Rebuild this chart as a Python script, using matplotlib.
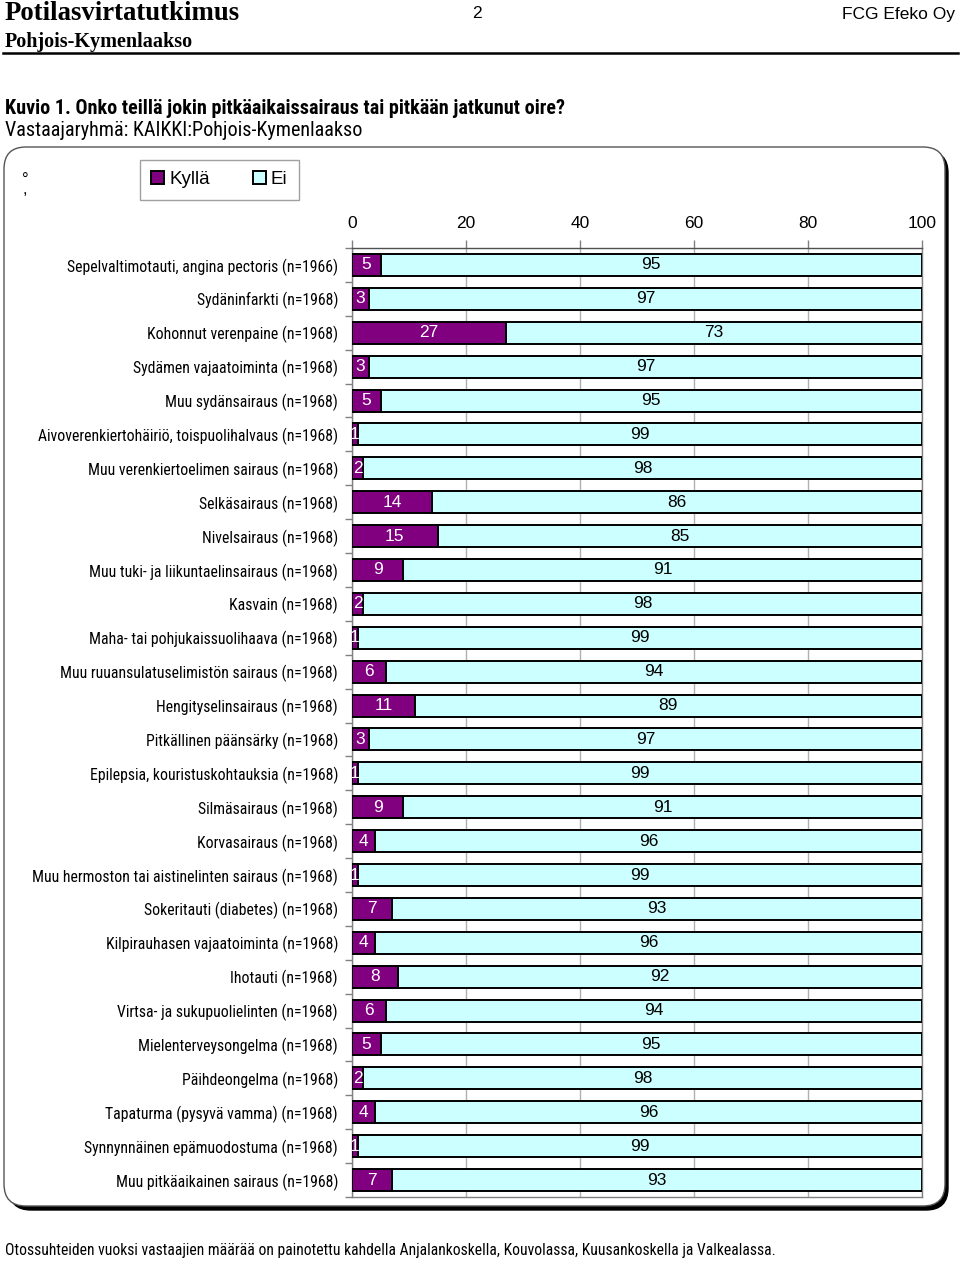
import matplotlib
matplotlib.use("Agg")
import matplotlib.pyplot as plt
from matplotlib.patches import FancyBboxPatch
from matplotlib.lines import Line2D
from matplotlib.transforms import IdentityTransform
from matplotlib.ticker import FixedLocator

categories = [
    "Sepelvaltimotauti, angina pectoris (n=1966)",
    "Sydäninfarkti (n=1968)",
    "Kohonnut verenpaine (n=1968)",
    "Sydämen vajaatoiminta (n=1968)",
    "Muu sydänsairaus (n=1968)",
    "Aivoverenkiertohäiriö, toispuolihalvaus (n=1968)",
    "Muu verenkiertoelimen sairaus (n=1968)",
    "Selkäsairaus (n=1968)",
    "Nivelsairaus (n=1968)",
    "Muu tuki- ja liikuntaelinsairaus (n=1968)",
    "Kasvain (n=1968)",
    "Maha- tai pohjukaissuolihaava (n=1968)",
    "Muu ruuansulatuselimistön sairaus (n=1968)",
    "Hengityselinsairaus (n=1968)",
    "Pitkällinen päänsärky (n=1968)",
    "Epilepsia, kouristuskohtauksia (n=1968)",
    "Silmäsairaus (n=1968)",
    "Korvasairaus (n=1968)",
    "Muu hermoston tai aistinelinten sairaus (n=1968)",
    "Sokeritauti (diabetes) (n=1968)",
    "Kilpirauhasen vajaatoiminta (n=1968)",
    "Ihotauti (n=1968)",
    "Virtsa- ja sukupuolielinten (n=1968)",
    "Mielenterveysongelma (n=1968)",
    "Päihdeongelma (n=1968)",
    "Tapaturma (pysyvä vamma) (n=1968)",
    "Synnynnäinen epämuodostuma (n=1968)",
    "Muu pitkäaikainen sairaus (n=1968)",
]
kylla = [5, 3, 27, 3, 5, 1, 2, 14, 15, 9, 2, 1, 6, 11, 3, 1, 9, 4, 1, 7, 4, 8, 6, 5, 2, 4, 1, 7]
ei = [95, 97, 73, 97, 95, 99, 98, 86, 85, 91, 98, 99, 94, 89, 97, 99, 91, 96, 99, 93, 96, 92, 94, 95, 98, 96, 99, 93]
series_names = ["Kyllä", "Ei"]
xticks = [0, 20, 40, 60, 80, 100]

NARROW = ["Roboto Condensed", "DejaVu Sans"]
SANS = ["Liberation Sans", "DejaVu Sans"]
SERIF = ["Liberation Serif", "DejaVu Serif"]

W, H = 960, 1262
fig = plt.figure(figsize=(W / 100, H / 100), dpi=100)
fig.patch.set_facecolor("white")

def fx(px):
    return px / W

def fy(py):
    return 1 - py / H

# Frame with shadow (pixel coords, origin bottom-left)
ident = IdentityTransform()
shadow = FancyBboxPatch((9, H - 1210), 939, 1059,
                        boxstyle="round,pad=0,rounding_size=22",
                        facecolor="black", edgecolor="black", transform=ident, zorder=-3)
frame = FancyBboxPatch((4, H - 1206), 941, 1059,
                       boxstyle="round,pad=0,rounding_size=22",
                       facecolor="white", edgecolor="#555555", linewidth=1.0,
                       transform=ident, zorder=-2)
fig.add_artist(shadow)
fig.add_artist(frame)

# Header
fig.text(fx(5), fy(13), "Potilasvirtatutkimus", family=SERIF, weight="bold",
         fontsize=19.3, ha="left", va="center")
fig.text(fx(477), fy(14), "2", family=SANS, fontsize=12.5, ha="center", va="center")
fig.text(fx(955), fy(14), "FCG Efeko Oy", family=SANS, fontsize=12.5, ha="right", va="center")
fig.text(fx(5), fy(42), "Pohjois-Kymenlaakso", family=SERIF, weight="bold",
         fontsize=14.5, ha="left", va="center")
fig.add_artist(Line2D([fx(3), fx(958)], [fy(53), fy(53)], color="black", lw=1.8))

fig.text(fx(5), fy(108), "Kuvio 1. Onko teillä jokin pitkäaikaissairaus tai pitkään jatkunut oire?",
         family=NARROW, weight="bold", fontsize=14.5, ha="left", va="center")
fig.text(fx(5), fy(130), "Vastaajaryhmä: KAIKKI:Pohjois-Kymenlaakso",
         family=NARROW, fontsize=14.5, ha="left", va="center")

fig.text(fx(25), fy(185), "°\n,", family=SANS, fontsize=12, ha="center", va="center",
         linespacing=0.55)

fig.text(fx(5), fy(1251),
         "Otossuhteiden vuoksi vastaajien määrää on painotettu kahdella Anjalankoskella, Kouvolassa, Kuusankoskella ja Valkealassa.",
         family=NARROW, fontsize=11.25, ha="left", va="center")

# Axes
left, right, top, bottom = 352, 922, 248, 1197
ax = fig.add_axes([fx(left), fy(bottom), fx(right - left), (bottom - top) / H])
ax.set_facecolor("white")

n = len(categories)
y = list(range(n))
purple = "#800080"
cyan = "#CCFFFF"
bh = 0.65
b1 = ax.barh(y, kylla, height=bh, color=purple, edgecolor="black", linewidth=1.4,
             label=series_names[0], zorder=3)
b2 = ax.barh(y, ei, left=kylla, height=bh, color=cyan, edgecolor="black", linewidth=1.4,
             label=series_names[1], zorder=3)
ax.bar_label(b1, labels=[str(v) for v in kylla], label_type="center", color="white",
             fontsize=12.5, family=SANS, zorder=4)
ax.bar_label(b2, labels=[str(v) for v in ei], label_type="center", color="black",
             fontsize=12.5, family=SANS, zorder=4)

ax.set_xlim(0, 100)
ax.set_ylim(n - 0.5, -0.5)
ax.xaxis.set_major_locator(FixedLocator(xticks))
ax.xaxis.tick_top()
ax.set_xticklabels([str(v) for v in xticks], family=SANS, fontsize=12.5)
ax.tick_params(axis="x", which="major", length=6, width=1, color="#808080", pad=6, direction="out")
ax.grid(axis="x", color="#b0b0b0", lw=1, zorder=1)

ax.set_yticks(y)
ax.set_yticklabels(categories, family=NARROW, fontsize=11.3)
ax.tick_params(axis="y", which="major", length=0, pad=10)
ax.yaxis.set_minor_locator(FixedLocator([i - 0.5 for i in range(n + 1)]))
ax.tick_params(axis="y", which="minor", length=5, width=1, color="#808080", direction="out")

for s in ax.spines.values():
    s.set_color("#808080")
    s.set_linewidth(1)
ax.spines["top"].set_color("#505050")

# Legend
fig.legend(handles=[b1, b2], labels=series_names, ncol=2, loc="upper left",
           bbox_to_anchor=(fx(140), fy(160)), frameon=True, fancybox=False,
           edgecolor="#a0a0a0", framealpha=1, prop={"family": SANS, "size": 13.5},
           handlelength=0.7, handleheight=0.7, handletextpad=0.25,
           columnspacing=2.3, borderpad=0.6, borderaxespad=0)

fig.savefig("out.png", dpi=100)
